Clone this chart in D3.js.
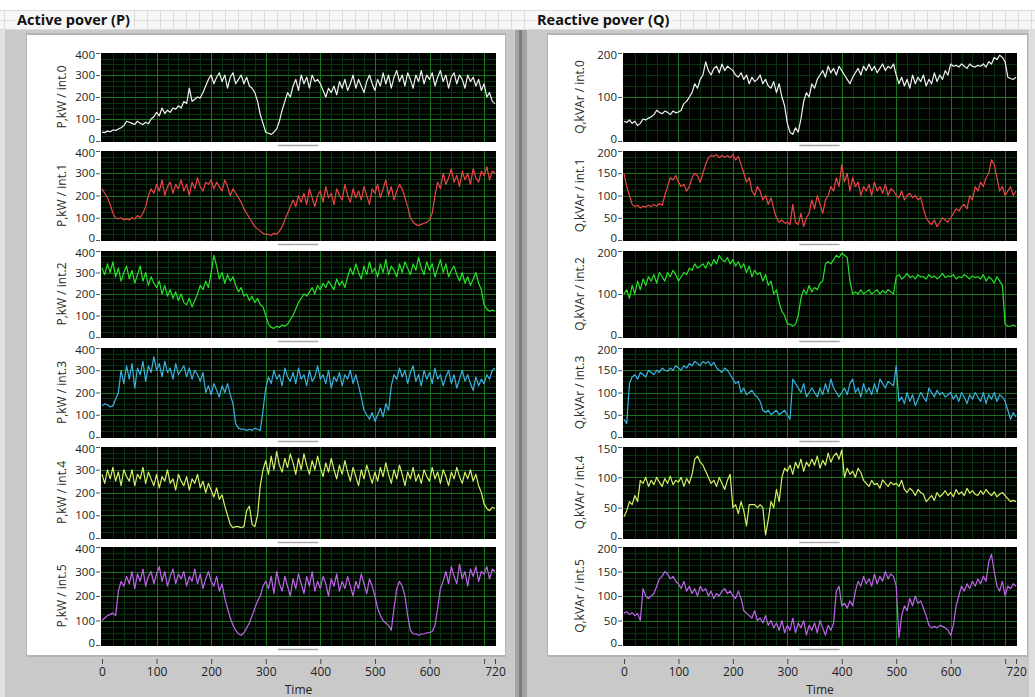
<!DOCTYPE html>
<html>
<head>
<meta charset="utf-8">
<script src="https://cdnjs.cloudflare.com/ajax/libs/d3/7.8.5/d3.min.js"></script>
<style>
  body { margin: 0; background: #fff; }
  svg { display: block; font-family: "Open Sans", "Noto Sans", sans-serif; }
</style>
</head>
<body>
<div id="chart"></div>
<script>
// sample step of the traces (time units)
const step = 5;
const timeTicks = [0, 100, 200, 300, 400, 500, 600, 700, 720];
const timeLabels = ["0", "100", "200", "300", "400", "500", "600", "", "720"];

const channels = ["int.0", "int.1", "int.2", "int.3", "int.4", "int.5"];
const traceColors = ["#f2f2f2", "#ee4448", "#26e426", "#3cb2e4", "#d6f066", "#c064ec"];

// active power, kW
const p0 = [40,38,45,42,50,48,55,60,70,90, 85,80,75,90,80,75,85,78,100,110, 130,115,150,125,140,130,150,145,160,150,
  180,170,240,180,190,200,195,220,250,280, 300,260,290,310,270,300,240,290,310,260, 280,300,260,290,250,240,220,180,120,80,
  40,35,30,40,55,90,140,180,220,200, 250,280,230,300,260,290,240,300,270,280, 260,230,200,240,220,250,210,270,240,280,
  230,260,300,240,280,250,220,270,300,260, 230,280,250,310,260,300,240,290,320,270, 300,250,310,280,240,300,270,320,260,300,
  280,310,250,290,320,270,300,240,290,310, 260,300,280,240,300,270,290,250,280,230, 260,200,220,180,170];
const p1 = [230,210,190,160,120,100,95,100,90,95, 90,100,95,110,100,120,150,200,230,210, 250,220,270,200,240,260,210,250,230,270,
  220,250,200,260,230,280,240,220,260,250, 270,230,260,240,220,270,240,200,230,210, 190,170,140,120,100,80,60,50,40,30,
  25,25,20,30,25,40,60,90,120,150, 180,150,200,170,210,160,230,190,150,200, 220,170,240,190,210,160,230,200,180,250,
  200,170,230,190,220,180,240,200,160,230, 210,250,190,230,270,200,240,180,220,250, 230,190,150,100,80,70,65,70,75,80,
  90,120,200,260,230,300,250,280,320,260, 290,240,310,270,300,250,320,280,260,310, 290,330,270,310,300];
const p2 = [320,290,340,300,350,280,320,260,300,330, 270,310,250,290,330,260,300,240,280,250, 230,260,200,240,190,220,180,210,170,200,
  160,150,180,140,170,200,240,220,260,230, 300,380,330,270,300,250,290,260,280,240, 210,230,190,200,170,190,160,180,150,140,
  100,60,45,40,50,45,55,50,60,80, 100,130,160,180,200,190,210,230,200,240, 220,250,230,260,240,220,270,240,260,230,
  280,320,290,340,300,270,330,290,350,300, 320,280,340,300,360,290,330,310,280,340, 300,350,320,290,340,310,370,320,290,350,
  310,340,280,320,360,300,340,280,310,330, 290,260,300,250,280,240,270,300,250,220, 150,130,120,125,120];
const p3 = [140,150,145,135,140,170,200,300,240,320, 260,330,220,310,280,340,250,320,290,360, 300,330,270,340,290,310,260,330,280,300,
  320,270,310,260,300,280,250,290,200,230, 190,240,210,180,230,200,240,190,150,60, 40,35,35,30,35,30,40,35,30,120,
  220,270,240,300,260,280,230,310,270,250, 290,240,310,260,280,230,300,250,270,320, 260,280,240,300,220,270,250,290,230,280,
  260,300,240,280,230,180,120,100,80,110, 70,100,130,90,150,120,230,280,260,310, 270,300,240,290,320,250,280,230,300,260,
  290,240,310,260,280,230,270,300,240,280, 220,260,300,250,280,240,210,270,230,260, 240,280,260,300,310];
const p4 = [280,240,300,260,310,250,290,230,300,270, 250,300,230,280,260,310,240,290,260,230, 280,220,270,250,300,240,260,210,280,250,
  230,270,210,260,240,280,220,250,200,240, 210,180,220,170,190,140,100,60,45,50, 50,45,50,120,140,60,50,100,230,300,
  340,280,360,300,380,320,290,350,310,370, 330,280,350,300,370,320,280,340,300,360, 310,270,330,290,350,300,260,320,280,340,
  290,250,310,270,230,300,260,320,280,240, 290,250,310,270,330,280,240,300,260,320, 280,230,290,260,310,250,280,240,300,270,
  250,310,260,290,240,300,270,230,290,260, 310,270,240,290,260,300,250,280,230,200, 150,130,120,135,130];
const p5 = [100,110,120,125,130,120,220,260,240,280, 250,300,230,290,260,310,240,280,300,250, 290,320,260,300,240,280,310,250,290,270,
  300,240,280,260,310,250,290,230,270,300, 260,240,280,220,250,190,150,110,80,60, 45,40,50,70,90,120,150,180,200,240,
  260,230,280,210,300,250,220,280,240,200, 270,230,290,250,210,280,240,300,220,260, 230,280,250,200,270,240,290,220,260,230,
  280,240,200,260,230,290,250,210,270,240, 200,150,120,100,90,80,60,150,230,260, 240,200,120,60,45,45,40,45,45,50,
  50,55,80,150,230,260,300,250,320,280, 250,330,270,300,240,310,280,320,260,300, 290,320,270,310,300];

// reactive power, kVAr
const q0 = [45,42,48,40,45,35,40,50,48,52, 55,60,70,65,62,68,65,60,68,64, 66,70,85,90,100,110,130,120,140,150,
  180,160,150,165,170,155,175,160,170,165, 160,150,145,155,140,150,130,145,135,140, 150,130,140,125,120,135,110,130,100,80,
  40,20,15,30,20,50,90,110,100,130, 120,140,150,160,145,170,155,165,150,170, 160,150,140,130,145,155,165,150,170,160,
  175,160,170,155,165,175,160,170,165,175, 150,130,145,125,140,120,150,130,145,135, 150,125,140,130,155,135,150,140,160,150,
  175,170,172,168,175,170,165,175,170,168, 172,170,175,168,180,175,190,185,195,190, 180,145,142,140,145];
const q1 = [150,120,100,80,75,78,72,76,74,78, 75,80,76,82,78,100,120,140,135,145, 130,120,125,110,120,140,150,145,130,150,
  170,185,190,188,192,185,190,186,190,185, 192,180,188,170,150,130,140,110,100,120, 110,90,100,80,95,70,50,40,45,38,
  40,35,80,40,35,60,30,50,60,90, 70,100,80,60,90,100,120,110,140,120, 170,130,150,110,140,120,130,100,120,110,
  125,100,130,110,120,105,125,100,115,110, 100,95,110,90,100,105,95,100,90,95, 70,50,40,35,45,30,40,50,45,40,
  50,60,70,65,75,80,70,100,90,120, 110,130,120,140,150,180,170,140,110,120, 100,110,120,100,110];
const q2 = [100,110,90,120,100,130,110,135,120,140, 130,145,125,150,140,130,150,140,155,145, 130,140,150,145,160,155,170,160,165,170,
  160,175,165,180,170,190,180,175,185,170, 180,165,175,160,170,150,165,140,155,145, 150,130,145,120,130,100,110,80,60,50,
  30,30,25,30,50,90,110,100,120,105, 115,110,125,130,170,175,170,180,190,185, 195,190,185,130,100,105,100,110,100,105,
  110,100,105,110,100,108,102,110,105,100, 140,145,135,140,148,138,142,135,145,140, 140,135,145,138,142,135,140,148,138,142,
  140,145,135,140,138,145,140,135,142,138, 140,135,145,130,140,135,125,140,130,120, 30,25,25,28,25];
const q3 = [40,30,120,135,140,130,145,140,135,150, 145,140,150,145,155,150,148,155,150,160, 155,150,160,155,165,160,170,165,160,170,
  165,170,160,168,155,150,145,155,150,140, 130,120,125,100,110,95,100,105,95,90, 80,60,55,60,50,55,60,50,55,60,
  50,40,130,120,110,100,120,90,100,110, 100,90,110,95,120,100,130,110,100,90, 100,110,95,120,130,100,110,90,120,100,
  110,95,120,100,130,120,110,125,120,115, 160,80,90,75,100,80,95,70,85,100, 90,80,110,100,90,105,95,100,90,95,
  100,85,95,80,100,90,75,95,85,100, 90,80,100,75,95,85,100,80,95,90, 80,60,40,55,45];
const q4 = [35,45,60,55,70,60,95,90,100,85, 95,88,100,92,85,98,90,102,88,95, 92,100,85,98,90,105,130,135,125,120,
  110,100,90,95,85,100,90,80,95,105, 50,55,40,60,45,20,55,55,55,50, 55,50,5,30,60,50,80,60,100,115,
  110,120,105,125,115,130,110,125,118,130, 120,135,115,128,120,140,125,135,140,130, 145,100,115,105,110,100,115,108,95,90,
  85,95,88,90,82,96,90,85,92,88, 90,85,95,80,75,82,78,70,80,75, 72,60,65,70,62,75,68,72,78,70,
  75,68,80,72,76,70,82,74,78,72, 70,78,72,80,74,70,76,68,72,75, 70,65,60,62,60];
const q5 = [65,68,62,66,60,64,50,115,100,95, 100,105,120,135,140,150,145,135,140,130, 125,115,130,110,120,105,115,100,120,110,
  115,100,110,95,105,100,110,115,105,110, 100,95,110,95,70,65,60,55,70,50, 55,45,60,40,50,35,45,30,50,25,
  40,30,55,25,45,35,50,20,40,30, 45,25,50,35,20,40,30,45,110,120, 80,85,75,90,80,110,130,120,140,125,
  135,120,145,125,140,130,150,135,145,140, 120,15,60,80,70,95,80,100,85,90, 75,60,40,35,38,35,40,38,35,30,
  20,40,80,100,120,110,125,115,130,120, 135,125,140,130,170,185,150,120,110,130, 100,120,115,125,120];

const pData = [p0, p1, p2, p3, p4, p5];
const qData = [q0, q1, q2, q3, q4, q5];
const pTicks = [0, 100, 200, 300, 400];
const qTicks = [[0, 100, 200], [0, 50, 100, 150, 200], [0, 100, 200], [0, 50, 100, 150, 200], [0, 50, 100, 150], [0, 50, 100, 150, 200]];

const W = 1035, H = 697;
const rowTop = [53, 151, 251, 348, 447, 547];
const rowBot = [141, 240, 337, 437, 538, 645];

const svg = d3.select("#chart").append("svg")
  .attr("width", W).attr("height", H);

// header strip with the faint grid
svg.append("rect").attr("x", 0).attr("y", 0).attr("width", W).attr("height", H).attr("fill", "#fff");
svg.append("rect").attr("x", 0).attr("y", 10).attr("width", W).attr("height", 20).attr("fill", "#f7f7f7");
const hdr = svg.append("g").attr("stroke", "#dcdcdc").attr("stroke-width", 1);
for (let x = 4.5; x < W; x += 13) hdr.append("line").attr("x1", x).attr("x2", x).attr("y1", 10).attr("y2", 30);
[10.5, 20.5, 29.5].forEach(y => hdr.append("line").attr("x1", 0).attr("x2", W).attr("y1", y).attr("y2", y));

// gray body
svg.append("rect").attr("x", 0).attr("y", 30).attr("width", W).attr("height", H - 30).attr("fill", "#c9c9c9");
svg.append("rect").attr("x", 0).attr("y", 30).attr("width", 5).attr("height", H - 30).attr("fill", "#e2e2e2");
svg.append("rect").attr("x", 515).attr("y", 30).attr("width", 12).attr("height", H - 30).attr("fill", "#a2a2a2");
svg.append("rect").attr("x", 519).attr("y", 30).attr("width", 3).attr("height", H - 30).attr("fill", "#7c7c7c");
svg.append("rect").attr("x", 1029).attr("y", 30).attr("width", 6).attr("height", H - 30).attr("fill", "#dedede");

const panels = [
  { title: "Active pover (P)", tx: 17, x0: 27, x1: 505, left: 102, right: 495, data: pData, unit: "P,kW / ", titleX: 62 },
  { title: "Reactive pover (Q)", tx: 537, x0: 548, x1: 1027, left: 624, right: 1016, data: qData, unit: "Q,kVAr / ", titleX: 580 }
];

panels.forEach((pn, pi) => {
  // title over the header grid
  const t = svg.append("text").attr("x", pn.tx).attr("y", 25)
    .attr("font-weight", "bold").attr("font-size", "14.5px").attr("fill", "#111")
    .text(pn.title);
  const bb = t.node().getBBox();
  svg.insert("rect", () => t.node()).attr("x", pn.tx - 2).attr("y", 11).attr("width", bb.width + 5).attr("height", 18).attr("fill", "#f7f7f7");

  svg.append("rect").attr("x", pn.x0 - 1).attr("y", 33).attr("width", pn.x1 - pn.x0 + 2).attr("height", 624).attr("fill", "#b4b4b4");
  svg.append("rect").attr("x", pn.x0).attr("y", 35).attr("width", pn.x1 - pn.x0).attr("height", 620).attr("fill", "#fff");

  const x = d3.scaleLinear().domain([0, 720]).range([pn.left, pn.right]);

  pn.data.forEach((series, i) => {
    const ticks = pi === 0 ? pTicks : qTicks[i];
    const yMax = ticks[ticks.length - 1];
    const y = d3.scaleLinear().domain([0, yMax]).range([rowBot[i], rowTop[i]]);
    const g = svg.append("g");

    g.append("rect").attr("x", pn.left - 1).attr("y", rowTop[i])
      .attr("width", pn.right - pn.left + 2).attr("height", rowBot[i] - rowTop[i] + 1).attr("fill", "#010301");

    // minor grid: 4 steps per labelled tick
    const tStep = ticks[1] - ticks[0];
    const minorY = d3.range(0, yMax + 0.01, tStep / 4).filter(v => v % tStep !== 0);
    const minorX = d3.range(0, 720, 20).filter(v => v % 100 !== 0);
    g.selectAll(".mx").data(minorX).join("line")
      .attr("x1", d => Math.round(x(d)) + 0.5).attr("x2", d => Math.round(x(d)) + 0.5)
      .attr("y1", rowTop[i]).attr("y2", rowBot[i] + 1).attr("stroke", "#0a3210");
    g.selectAll(".my").data(minorY).join("line")
      .attr("x1", pn.left - 1).attr("x2", pn.right + 1)
      .attr("y1", d => Math.round(y(d)) + 0.5).attr("y2", d => Math.round(y(d)) + 0.5).attr("stroke", "#0a3210");
    // major grid
    g.selectAll(".Mx").data(timeTicks.slice(1, -1)).join("line")
      .attr("x1", d => Math.round(x(d)) + 0.5).attr("x2", d => Math.round(x(d)) + 0.5)
      .attr("y1", rowTop[i]).attr("y2", rowBot[i] + 1).attr("stroke", "#1a7420");
    g.selectAll(".My").data(ticks.slice(1, -1)).join("line")
      .attr("x1", pn.left - 1).attr("x2", pn.right + 1)
      .attr("y1", d => Math.round(y(d)) + 0.5).attr("y2", d => Math.round(y(d)) + 0.5).attr("stroke", "#1a7420");

    // trace
    const line = d3.line().x((d, k) => x(k * step)).y(d => y(d));
    g.append("path").datum(series).attr("d", line)
      .attr("fill", "none").attr("stroke", traceColors[i]).attr("stroke-width", 1.2)
      .attr("stroke-linejoin", "round");

    // y axis
    const ax = g.append("g").attr("transform", `translate(${pn.left - 2},0)`)
      .call(d3.axisLeft(y).tickValues(ticks).tickSize(4).tickPadding(1).tickFormat(d3.format("d")));
    ax.select(".domain").remove();
    ax.selectAll("line").attr("stroke", "#555");
    ax.selectAll("text").attr("font-size", "11.5px").attr("fill", "#222")
      .attr("font-family", "\"Open Sans\", sans-serif")
      .attr("dy", d => d === 0 ? "0.1em" : d === yMax ? "0.45em" : "0.32em");

    g.append("text")
      .attr("transform", `translate(${pn.titleX},${(rowTop[i] + rowBot[i]) / 2}) rotate(-90)`)
      .attr("text-anchor", "middle").attr("dy", "0.35em")
      .attr("font-size", "12px").attr("fill", "#2a2a2a")
      .text(pn.unit + channels[i]);

    // little scroll marker under each plot
    g.append("line").attr("x1", x(322)).attr("x2", x(396))
      .attr("y1", rowBot[i] + 4.5).attr("y2", rowBot[i] + 4.5)
      .attr("stroke", "#a8a8a8").attr("stroke-width", 1.5);
  });

  // shared time axis
  const xa = svg.append("g").attr("transform", "translate(0,659)")
    .call(d3.axisBottom(x).tickValues(timeTicks).tickSize(5).tickPadding(3)
      .tickFormat((d, k) => timeLabels[k]));
  xa.select(".domain").remove();
  xa.selectAll("line").attr("stroke", "#444");
  xa.selectAll("text").attr("font-size", "12px").attr("fill", "#222")
    .attr("font-family", "\"Open Sans\", sans-serif");

  svg.append("text").attr("x", (pn.left + pn.right) / 2).attr("y", 694)
    .attr("text-anchor", "middle").attr("font-size", "12px").attr("fill", "#222")
    .text("Time");
});
</script>
</body>
</html>
